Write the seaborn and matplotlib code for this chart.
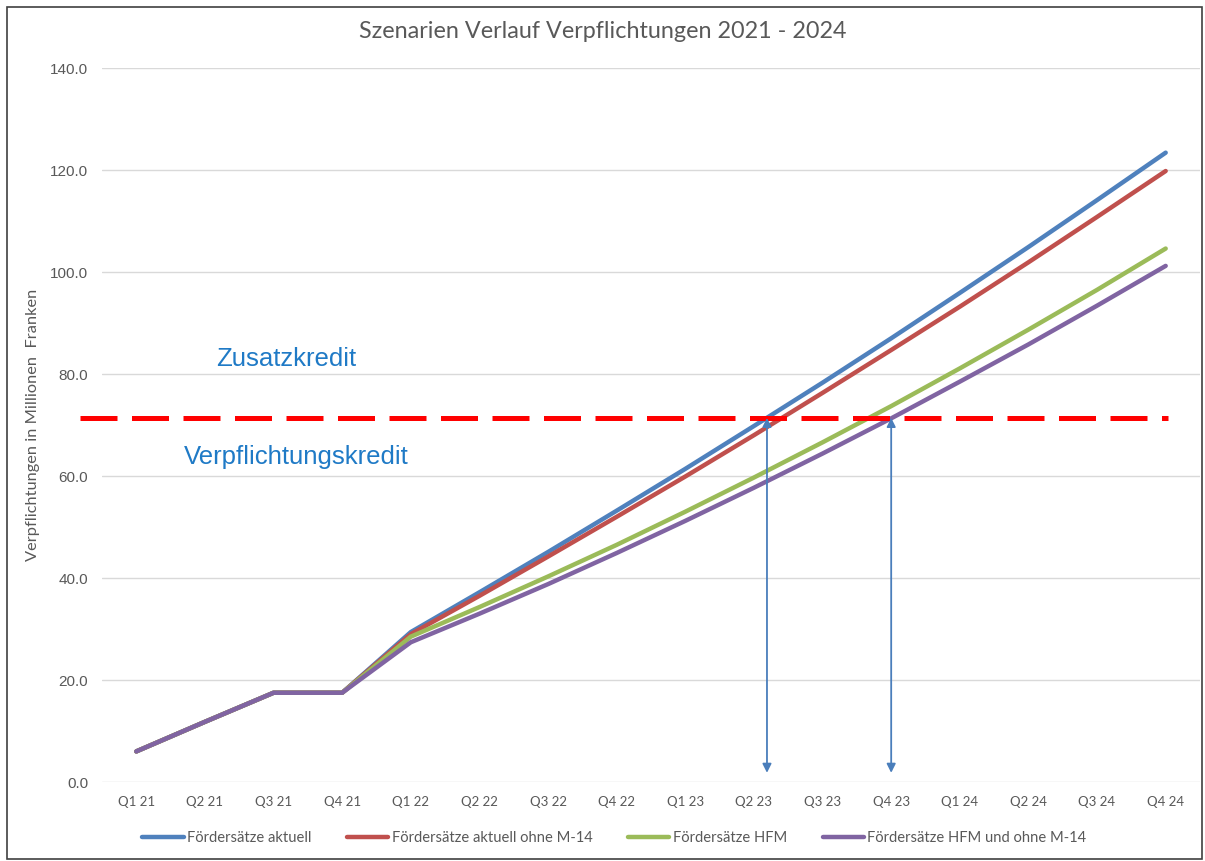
import pandas as pd
import matplotlib.pyplot as plt
import seaborn as sns
import numpy as np
from matplotlib.patches import Rectangle

# Quartale
quartale = ['Q1 21', 'Q2 21', 'Q3 21', 'Q4 21', 'Q1 22', 'Q2 22', 'Q3 22', 'Q4 22',
            'Q1 23', 'Q2 23', 'Q3 23', 'Q4 23', 'Q1 24', 'Q2 24', 'Q3 24', 'Q4 24']

# Szenarien (Mio. CHF)
aktuell = [6.0, 11.8, 17.5, 17.5, 29.4, 37.2, 45.1, 53.2, 61.4, 69.8, 78.3, 87.0, 95.9, 104.9, 114.1, 123.4]
aktuell_ohne_m14 = [6.0, 11.8, 17.5, 17.5, 29.0, 36.5, 44.2, 52.0, 59.9, 68.0, 76.3, 84.7, 93.2, 101.9, 110.8, 119.8]
hfm = [6.0, 11.8, 17.5, 17.5, 28.5, 34.3, 40.3, 46.5, 53.0, 59.7, 66.6, 73.7, 81.1, 88.7, 96.5, 104.6]
hfm_ohne_m14 = [6.0, 11.8, 17.5, 17.5, 27.4, 33.0, 38.8, 44.9, 51.2, 57.7, 64.4, 71.3, 78.5, 85.8, 93.4, 101.2]

szenarien = ['Fördersätze aktuell', 'Fördersätze aktuell ohne M-14',
             'Fördersätze HFM', 'Fördersätze HFM und ohne M-14']
farben = ['#4F81BD', '#C0504D', '#9BBB59', '#8064A2']

kreditgrenze = 71.4          # Verpflichtungskredit
pfeil_x = [9.19, 11.0]       # Position der Pfeile (Quartalsindex)
y_ticks = [0, 20, 40, 60, 80, 100, 120, 140]

df = pd.DataFrame({
    'Quartal': quartale * 4,
    'Wert': aktuell + aktuell_ohne_m14 + hfm + hfm_ohne_m14,
    'Szenario': np.repeat(szenarien, len(quartale)),
})

sns.set_style('white')
plt.rcParams['font.family'] = ['Liberation Sans', 'DejaVu Sans']

fig = plt.figure(figsize=(12.05, 8.61), dpi=100)
ax = fig.add_axes([102 / 1205, 79 / 861, 1098 / 1205, 714 / 861])

sns.lineplot(data=df, x='Quartal', y='Wert', hue='Szenario', palette=farben,
             sort=False, linewidth=3.2, ax=ax, solid_capstyle='round')

ax.set_xlim(-0.5, 15.5)
ax.set_ylim(0, 140)
ax.set_yticks(y_ticks)
ax.set_yticklabels([f'{v:.1f}' for v in y_ticks], fontsize=11, color='#595959')
ax.set_xticks(range(len(quartale)))
ax.set_xticklabels(quartale, fontsize=9.5, color='#595959', family=['Lato', 'DejaVu Sans'])
ax.tick_params(axis='both', length=0, pad=10)
ax.yaxis.grid(True, color='#D9D9D9', linewidth=1)
ax.set_axisbelow(True)
for s in ax.spines.values():
    s.set_visible(False)
ax.set_xlabel('')
ax.set_ylabel('Verpflichtungen in Millionen  Franken', fontsize=11.8, color='#595959',
              family=['Lato', 'DejaVu Sans'])
ax.yaxis.set_label_coords(-62 / 1098, 0.5)

# Kreditgrenze
ax.plot([-0.82, 15.03], [kreditgrenze, kreditgrenze], color='#FF0000', linewidth=3.6,
        dashes=(7.4, 2.9), clip_on=False, zorder=5)
ax.text(2.19, 82.9, 'Zusatzkredit', color='#1F7AC6', fontsize=18.5, ha='center', va='center')
ax.text(2.33, 63.7, 'Verpflichtungskredit', color='#1F7AC6', fontsize=18.5, ha='center', va='center')

# Pfeile
for px in pfeil_x:
    ax.annotate('', xy=(px, 1.8), xytext=(px, kreditgrenze),
                arrowprops=dict(arrowstyle='<|-|>', color='#4A7EBB', lw=1.3,
                                mutation_scale=13, shrinkA=0, shrinkB=0), zorder=6)

handles, labels = ax.get_legend_handles_labels()
ax.get_legend().remove()
fig.legend(handles, labels, loc='center', bbox_to_anchor=(0.51, 1 - 838 / 861), ncol=4,
           frameon=False, handlelength=2.8, columnspacing=2.4, handletextpad=0.25,
           prop={'family': ['Lato', 'DejaVu Sans'], 'size': 10.6},
           labelcolor='#595959')

fig.suptitle('Szenarien Verlauf Verpflichtungen 2021 - 2024', y=1 - 31 / 861, va='center',
             fontsize=16.8, color='#595959', family=['Lato', 'DejaVu Sans'])

# Rahmen
fig.patches.append(Rectangle((7 / 1205, 2 / 861), 1195 / 1205, 852 / 861, transform=fig.transFigure,
                             fill=False, edgecolor='#404040', linewidth=1.2))

fig.savefig('out.png', dpi=100)
